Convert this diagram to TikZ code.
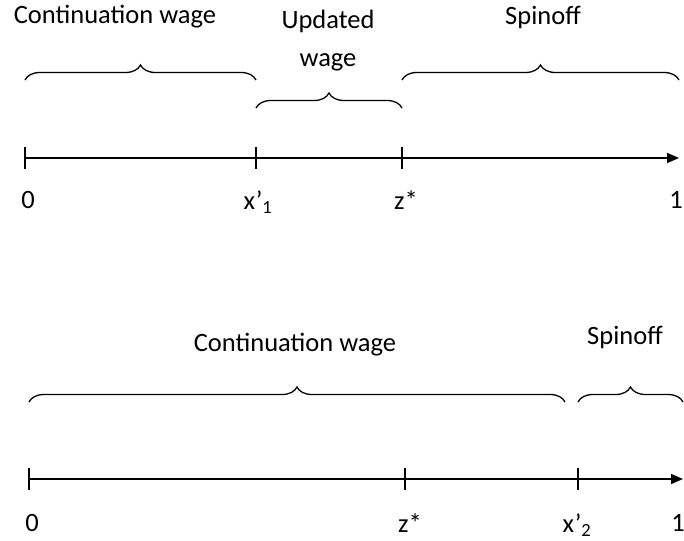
\documentclass[tikz,border=0pt]{standalone}
\usepackage{fontspec}
\setmainfont{Carlito}
\usetikzlibrary{arrows.meta,decorations.pathreplacing}
\tikzset{
      axisline/.style={
        line width=1.6pt,
        -{Triangle[length=12pt,width=10pt]}
      },
      tickmark/.style={line width=1.6pt},
      spanbrace/.style={
        decorate,
        decoration={brace,amplitude=15pt},
        line width=1.3pt
      },
      ticklabel/.style={font=\fontsize{26.5}{32}\selectfont, inner sep=0pt},
      spanlabel/.style={font=\fontsize{26.5}{38}\selectfont, align=center, inner sep=0pt}
    }

\begin{document}
\begin{tikzpicture}[x=1pt,y=-1pt]
    \useasboundingbox (0,0) rectangle (684,540);

    % upper line: z* lies to the right of x'_1
    \coordinate (u0) at (25,158);
    \coordinate (ux) at (256,158);
    \coordinate (uz) at (402,158);
    \coordinate (u1) at (679,158);
    \draw[axisline] (u0) -- (u1);
    \foreach \p in {u0,ux,uz}
      \draw[tickmark] ([yshift=11pt]\p) -- ([yshift=-11pt]\p);

    \draw[spanbrace] ([yshift=78pt]u0) -- ([yshift=78pt]ux);
    \draw[spanbrace] ([yshift=50pt]ux) -- ([yshift=50pt]uz);
    \draw[spanbrace] ([yshift=78pt]uz) -- ([yshift=78pt]u1);

    \node[spanlabel] (ucont) at (115,17) {Continuation wage};
    \node[spanlabel] (uupd) at (328,41) {Updated\\wage};
    \node[spanlabel] (uspin) at (543,17) {Spinoff};

    \node[ticklabel] (l0) at (28,200) {0};
    \node[ticklabel] (lx) at (258,202) {x’\textsubscript{1}};
    \node[ticklabel] (lz) at (406,200) {z*};
    \node[ticklabel] (l1) at (676,200) {1};

    % lower line: x'_2 lies to the right of z*
    \coordinate (d0) at (29,479);
    \coordinate (dz) at (405,479);
    \coordinate (dx) at (578,479);
    \coordinate (d1) at (683,479);
    \draw[axisline] (d0) -- (d1);
    \foreach \p in {d0,dz,dx}
      \draw[tickmark] ([yshift=11pt]\p) -- ([yshift=-11pt]\p);

    \draw[spanbrace] ([yshift=77pt]d0) -- ([yshift=77pt,xshift=-13pt]dx);
    \draw[spanbrace] ([yshift=77pt]dx) -- ([yshift=77pt]d1);

    \node[spanlabel] (dcont) at (295,345) {Continuation wage};
    \node[spanlabel] (dspin) at (625,337) {Spinoff};

    \node[ticklabel] (m0) at (32,523) {0};
    \node[ticklabel] (mz) at (410,523) {z*};
    \node[ticklabel] (mx) at (577,525) {x’\textsubscript{2}};
    \node[ticklabel] (m1) at (678,523) {1};
    \end{tikzpicture}
\end{document}
